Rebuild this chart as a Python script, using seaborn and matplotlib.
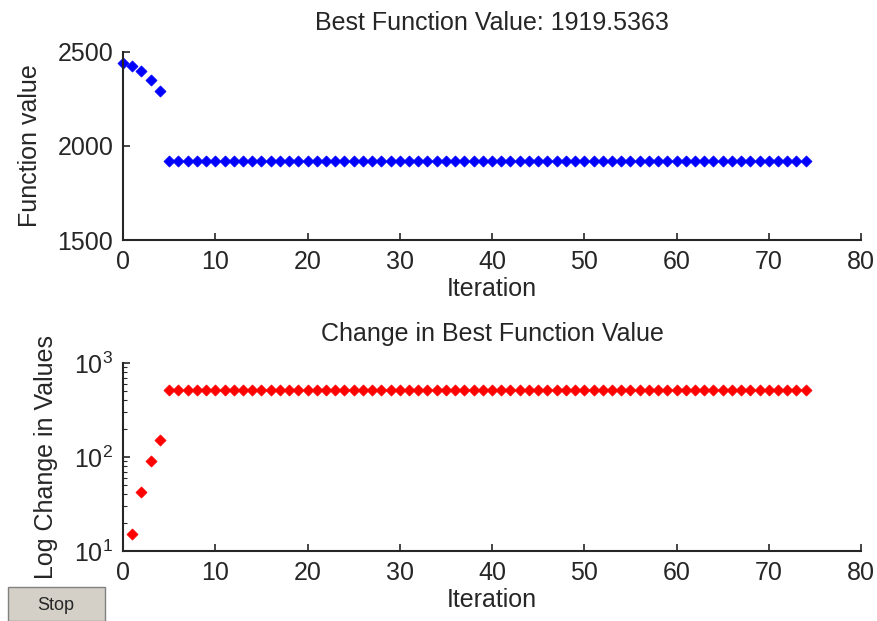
import numpy as np
import pandas as pd
import matplotlib
matplotlib.use('Agg')
import matplotlib.pyplot as plt
from matplotlib.patches import Rectangle
import seaborn as sns

# values
iter_start = [0, 1, 2, 3, 4]
best_start = [2440, 2425, 2398, 2350, 2290]
best_final = 1919.5363
last_iter = 74
change_start = [15, 42, 90, 150]

iterations = list(range(0, last_iter + 1))
best_vals = best_start + [best_final] * (len(iterations) - len(best_start))
change_iters = list(range(1, last_iter + 1))
change_vals = change_start + [520] * (len(change_iters) - len(change_start))

sns.set_style('ticks')
plt.rcParams['font.family'] = ['Liberation Sans', 'DejaVu Sans']
plt.rcParams['mathtext.fontset'] = 'custom'
plt.rcParams['mathtext.rm'] = 'Liberation Sans'
plt.rcParams['mathtext.it'] = 'Liberation Sans'
plt.rcParams['xtick.direction'] = 'in'
plt.rcParams['ytick.direction'] = 'in'

fs = 18
fig = plt.figure(figsize=(8.77, 6.21), dpi=100)
ax1 = fig.add_axes([0.1403, 0.6135, 0.8415, 0.3028])
ax2 = fig.add_axes([0.1403, 0.1127, 0.8415, 0.3028])

df1 = pd.DataFrame({'Iteration': iterations, 'val': best_vals})
df2 = pd.DataFrame({'Iteration': change_iters, 'val': change_vals})

sns.scatterplot(data=df1, x='Iteration', y='val', ax=ax1, marker='D', color='#0000ff',
                s=32, edgecolor='#0000ff', linewidth=0.5, clip_on=False)
sns.scatterplot(data=df2, x='Iteration', y='val', ax=ax2, marker='D', color='#ff0000',
                s=32, edgecolor='#ff0000', linewidth=0.5, clip_on=False)

ax1.set_xlim(0, 80)
ax1.set_ylim(1500, 2500)
ax1.set_yticks([1500, 2000, 2500])
ax1.set_xticks(range(0, 81, 10))
ax1.set_title('Best Function Value: %.4f' % best_final, fontsize=fs, pad=16)
ax1.set_ylabel('Function value', fontsize=fs)

ax2.set_yscale('log')
ax2.set_xlim(0, 80)
ax2.set_ylim(10, 1000)
ax2.set_xticks(range(0, 81, 10))
ax2.set_title('Change in Best Function Value', fontsize=fs, pad=16)
ax2.set_ylabel('Log Change in Values', fontsize=fs)

for ax in (ax1, ax2):
    sns.despine(ax=ax)
    ax.set_xlabel('Iteration', fontsize=fs, labelpad=2)
    ax.tick_params(labelsize=fs, colors='#262626', length=5, width=1.2, pad=7)
    ax.tick_params(which='minor', length=3, width=0.8, colors='#262626')
    for s in ('left', 'bottom'):
        ax.spines[s].set_color('#262626')
        ax.spines[s].set_linewidth(1.5)

ax1.yaxis.set_label_coords(-0.11, 0.5)
ax2.yaxis.set_label_coords(-0.088, 0.5)

# Stop button
fig.patches.append(Rectangle((8 / 877, 0), 97 / 877, 34 / 621, transform=fig.transFigure,
                             facecolor='#d4d0c8', edgecolor='#808080', linewidth=1))
fig.text(56 / 877, 16 / 621, 'Stop', ha='center', va='center', fontsize=13)

fig.savefig('out.png', dpi=100)
